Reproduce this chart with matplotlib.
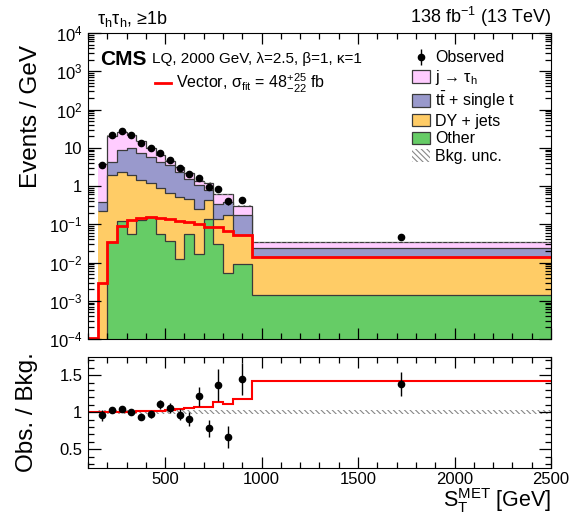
import numpy as np
import matplotlib.pyplot as plt
from matplotlib.patches import Patch
from matplotlib.lines import Line2D
from matplotlib.ticker import LogLocator, MultipleLocator, FuncFormatter, NullFormatter

plt.rcParams['font.family'] = ['Liberation Sans', 'DejaVu Sans']
plt.rcParams['mathtext.fontset'] = 'custom'
plt.rcParams['mathtext.rm'] = 'Liberation Sans'
plt.rcParams['mathtext.it'] = 'Liberation Sans:italic'
plt.rcParams['mathtext.bf'] = 'Liberation Sans:bold'
plt.rcParams['hatch.linewidth'] = 0.8

# bin edges in GeV (signal histogram starts at 100, backgrounds at 150)
edges = np.array([100, 150, 200, 250, 300, 350, 400, 450, 500, 550, 600,
                  650, 700, 750, 800, 850, 950, 2500])
edges_b = edges[1:]

# events / GeV per bin (150 ... 2500)
other = np.array([0.0, 0.035, 0.124, 0.056, 0.129, 0.158, 0.056, 0.037,
                  0.012, 0.054, 0.017, 0.140, 0.031, 0.0054, 0.0091, 0.0014])
dy_jets = np.array([0.226, 1.905, 2.156, 1.884, 1.301, 1.062, 0.814, 0.606,
                    0.514, 0.403, 0.228, 0.291, 0.104, 0.173, 0.043, 0.0123])
ttbar = np.array([0.163, 2.39, 6.46, 7.72, 5.72, 4.63, 3.46, 2.90,
                  1.84, 1.03, 0.815, 0.36, 0.203, 0.196, 0.123, 0.0107])
jtau = np.array([3.31, 16.47, 17.76, 11.84, 7.45, 4.25, 2.27, 1.01,
                 0.69, 0.74, 0.30, 0.43, 0.272, 0.236, 0.13, 0.0097])
bkg_unc = np.array([0.03] * 16)  # relative

observed = np.array([3.54, 21.5, 27.8, 21.5, 13.7, 9.8, 7.3, 4.8,
                     2.96, 2.02, 1.65, 0.96, 0.835, 0.405, 0.44, 0.047])
observed_err = np.array([0.27, 0.66, 0.75, 0.66, 0.52, 0.44, 0.38, 0.31,
                         0.24, 0.20, 0.18, 0.14, 0.13, 0.09, 0.066, 0.0055])

# signal: 100 ... 2500
signal = np.array([0.0, 0.00285, 0.035, 0.090, 0.129, 0.146, 0.155, 0.146,
                   0.135, 0.122, 0.117, 0.102, 0.0865, 0.083, 0.0667, 0.0524, 0.0142])

c_jtau = '#FFCCFF'
c_tt = '#9999CC'
c_dy = '#FFCC66'
c_other = '#66CC66'
c_line = '#3a3a3a'

centers = 0.5 * (edges_b[1:] + edges_b[:-1])
total = other + dy_jets + ttbar + jtau

fig = plt.figure(figsize=(5.75, 5.16), dpi=100)
ax = fig.add_axes([88/575, 1-339/516, 463/575, 306/516])
rax = fig.add_axes([88/575, 1-467.7/516, 463/575, 111/516])

# stacked backgrounds (drawn from total downwards)
cum = [total, other + dy_jets + ttbar, other + dy_jets, other]
cols = [c_jtau, c_tt, c_dy, c_other]
for top, col in zip(cum, cols):
    top_p = np.maximum(top, 1e-6)
    ax.stairs(top_p, edges_b, baseline=1e-6, fill=True, facecolor=col, lw=0)
    ax.stairs(top_p, edges_b, baseline=None, color=c_line, lw=0.9)

ax.stairs(total * (1 + bkg_unc), edges_b, baseline=total * (1 - bkg_unc), fill=True,
          facecolor='none', edgecolor='#888888', hatch='\\\\\\\\\\\\', lw=0)

ax.stairs(np.maximum(signal, 1.05e-4), edges, baseline=None, color='#FF0000', lw=2.0)

ax.errorbar(centers, observed, yerr=observed_err, fmt='o', color='black',
            ms=4.5, elinewidth=1, capsize=0)

ax.set_yscale('log')
ax.set_xlim(100, 2500)
ax.set_ylim(1e-4, 1e4)
ax.yaxis.set_major_locator(LogLocator(base=10, subs=(1.0,), numticks=20))
ax.yaxis.set_minor_locator(LogLocator(base=10, subs=np.arange(2, 10), numticks=200))
ax.yaxis.set_minor_formatter(NullFormatter())


def logfmt(v, pos):
    e = int(round(np.log10(v)))
    if e == 0:
        return '1'
    if e == 1:
        return '10'
    return r'$10^{%d}$' % e


ax.yaxis.set_major_formatter(FuncFormatter(logfmt))
ax.set_xticklabels([])

for a in (ax, rax):
    a.xaxis.set_major_locator(MultipleLocator(500))
    a.xaxis.set_minor_locator(MultipleLocator(100))
    a.tick_params(which='both', direction='in', top=True, right=True, labelsize=12, width=0.9)
    a.tick_params(which='major', length=9, pad=4)
    a.tick_params(which='minor', length=4.5)
    a.tick_params(axis='x', which='major', length=8, pad=3)
    a.tick_params(axis='x', which='minor', length=4)

ax.set_ylabel('Events / GeV', fontsize=17.5, loc='top')
ax.yaxis.set_label_coords(-0.1, 0.96)

ax.text(0.02, 1.012, 'τ$_{\\rm h}$τ$_{\\rm h}$, ≥1b', transform=ax.transAxes,
        ha='left', va='bottom', fontsize=13)
ax.text(1.0, 1.012, '138 fb$^{-1}$ (13 TeV)', transform=ax.transAxes,
        ha='right', va='bottom', fontsize=13)
ax.text(0.026, 0.915, 'CMS', transform=ax.transAxes, ha='left', va='center',
        fontsize=15, fontweight='bold')
ax.text(0.138, 0.915, 'LQ, 2000 GeV, λ=2.5, β=1, κ=1', transform=ax.transAxes,
        ha='left', va='center', fontsize=11)

h_obs = ax.errorbar([], [], yerr=[], fmt='o', color='black', ms=4.5, elinewidth=1, capsize=0)
handles = [h_obs,
           Patch(facecolor=c_jtau, edgecolor=c_line, lw=0.9),
           Patch(facecolor=c_tt, edgecolor=c_line, lw=0.9),
           Patch(facecolor=c_dy, edgecolor=c_line, lw=0.9),
           Patch(facecolor=c_other, edgecolor=c_line, lw=0.9),
           Patch(facecolor='none', edgecolor='#888888', hatch='\\\\\\\\\\\\', lw=0)]
labels = ['Observed', 'j → τ$_{\\rm h}$', 't$\\bar{\\rm t}$ + single t',
          'DY + jets', 'Other', 'Bkg. unc.']
leg = ax.legend(handles, labels, loc='upper left', bbox_to_anchor=(0.70, 0.943),
                frameon=False, fontsize=11.5, handlelength=1.15, handleheight=0.8,
                handletextpad=0.3, labelspacing=0.17, borderpad=0, borderaxespad=0)
ax.add_artist(leg)
ax.legend([Line2D([], [], color='#FF0000', lw=2.0)],
          ['Vector, σ$_{\\rm fit}$ = $48^{+25}_{-22}$ fb'],
          loc='upper left', bbox_to_anchor=(0.145, 0.873), frameon=False,
          fontsize=11.5, handlelength=1.0, handletextpad=0.3,
          borderpad=0, borderaxespad=0)

# ratio panel
rax.stairs(1 + bkg_unc * 0.85, edges_b, baseline=1 - bkg_unc * 0.85, fill=True,
           facecolor='none', edgecolor='#888888', hatch='\\\\\\\\\\\\', lw=0)
ratio_sig = np.concatenate([[1.0], (total + signal[1:]) / total])
rax.stairs(ratio_sig, edges, baseline=None, color='#FF0000', lw=1.5)
rax.errorbar(centers, observed / total, yerr=observed_err / total, fmt='o',
             color='black', ms=4.5, elinewidth=1, capsize=0)
rax.set_xlim(100, 2500)
rax.set_ylim(0.25, 1.75)
rax.yaxis.set_major_locator(MultipleLocator(0.5))
rax.yaxis.set_minor_locator(MultipleLocator(0.1))
rax.yaxis.set_major_formatter(FuncFormatter(lambda v, p: '%g' % v))
rax.set_ylabel('Obs. / Bkg.', fontsize=17.5)
rax.yaxis.set_label_coords(-0.108, 0.5)
rax.set_xlabel('$\\rm S_T^{MET}$ [GeV]', fontsize=15.5, loc='right')
rax.xaxis.set_label_coords(1.0, -0.165)

fig.savefig('out.png', dpi=100)
